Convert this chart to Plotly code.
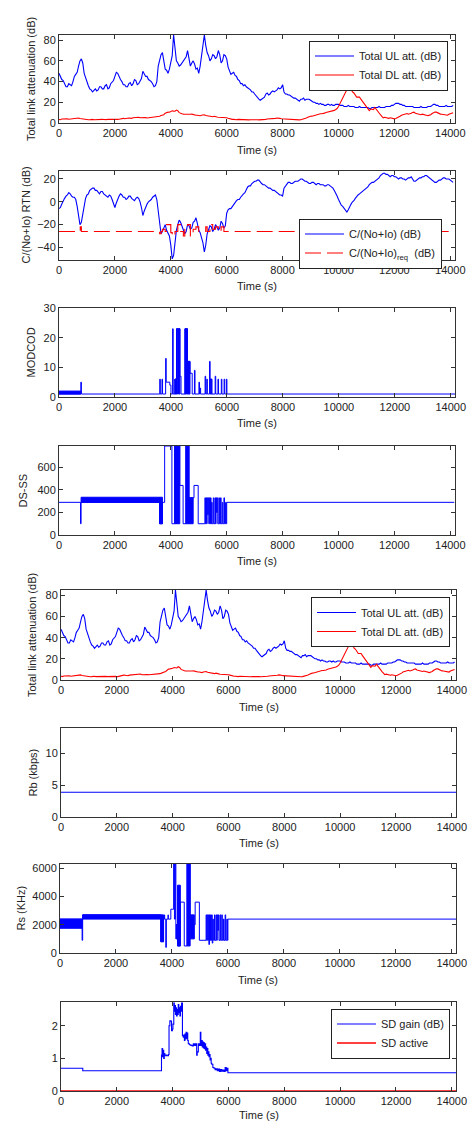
import plotly.graph_objects as go

W, H = 468, 1121
BLUE = "#0000ff"
RED = "#ff0000"
FONT = "Liberation Sans, Arial, sans-serif"
TXT = "#222222"

# ---------------- data ----------------
# values every 100 s (t = 0 ... 14100) and the in-between samples (t = 50 ... 14050)
ul_att = [48, 42, 38, 35, 37, 40, 47, 55, 62, 48, 38, 33, 30, 33, 32, 35, 33, 37, 34, 40,
          45, 48, 42, 37, 35, 38, 36, 42, 37, 40, 50, 45, 42, 40, 35, 40, 62, 68, 52, 48,
          58, 85, 60, 55, 58, 62, 70, 55, 60, 52, 48, 65, 85, 68, 60, 66, 62, 70, 58, 66,
          62, 50, 48, 46, 42, 38, 36, 35, 33, 30, 28, 24, 22, 24, 28, 27, 30, 30, 32, 33,
          37, 28, 27, 26, 24, 23, 21, 23, 22, 23, 22, 20, 19, 18, 18, 17, 18, 17, 17, 18,
          18, 17, 16, 16, 16, 16, 15, 15, 15, 15, 15, 14, 15, 15, 15, 15, 15, 16, 16, 17,
          18, 19, 18, 17, 16, 16, 16, 15, 15, 15, 15, 15, 16, 16, 18, 17, 16, 16, 16, 16,
          16, 17]
ul_att_mid = [44, 41, 35, 38, 36, 45, 49, 60, 58, 44, 36, 32, 32, 31, 35, 33, 36, 33, 38, 41,
              49, 44, 40, 37, 35, 39, 38, 41, 38, 43, 48, 45, 41, 38, 36, 55, 66, 60, 51, 52,
              65, 68, 58, 56, 61, 64, 63, 58, 57, 53, 55, 72, 75, 65, 62, 65, 64, 66, 60, 65,
              54, 47, 49, 45, 41, 38, 37, 34, 32, 30, 26, 23, 23, 25, 29, 28, 31, 31, 34, 34,
              30, 28, 27, 25, 24, 22, 23, 24, 23, 23, 21, 20, 19, 19, 18, 17, 18, 18, 17, 18,
              17, 17, 16, 17, 16, 16, 15, 16, 15, 15, 15, 14, 15, 15, 16, 15, 15, 16, 16, 17,
              19, 19, 18, 17, 16, 16, 16, 15, 15, 16, 15, 15, 16, 17, 18, 17, 16, 16, 17, 16,
              16]

dl_att = [3.5, 3.8, 3.5, 4.0, 3.8, 4.0, 4.5, 4.8, 4.0, 3.5, 3.5, 3.2, 3.5, 3.3, 3.5, 3.2, 3.4, 3.3, 3.5, 3.2,
          3.0, 3.5, 4.2, 4.5, 4.0, 4.8, 4.5, 5.2, 5.5, 5.0, 5.5, 5.2, 5.0, 5.5, 5.8, 6.0, 6.5, 7.5, 9.5, 10.5,
          11.0, 11.5, 12.5, 10.0, 9.0, 8.5, 8.0, 8.5, 8.0, 7.5, 7.0, 7.5, 8.0, 7.0, 6.5, 6.0, 6.5, 5.5, 5.0, 5.5,
          5.0, 4.0, 3.5, 3.2, 3.5, 3.0, 3.3, 3.2, 3.0, 3.3, 3.0, 3.2, 3.0, 3.3, 3.5, 3.8, 4.0, 4.5, 4.8, 4.5,
          4.0, 3.8, 3.5, 3.2, 3.0, 3.2, 3.0, 3.5, 4.5, 5.5, 6.5, 7.0, 8.0, 8.5, 9.0, 9.5, 10.5, 11.0, 12.0, 13.0,
          16.0, 22.0, 27.0, 32.0, 36.0, 30.0, 27.0, 25.0, 23.0, 20.0, 16.0, 12.0, 13.0, 15.0, 11.0, 8.0, 5.0, 5.0, 4.5, 4.5,
          4.0, 5.0, 6.5, 8.0, 9.0, 8.5, 9.5, 10.5, 9.0, 8.0, 8.5, 7.5, 7.0, 8.0, 10.0, 10.5, 9.0, 8.5, 8.0, 7.5,
          9.0, 10.0]
dl_att_mid = [3.2, 4.0, 3.9, 3.6, 4.2, 4.4, 4.9, 4.3, 3.8, 3.6, 3.1, 3.6, 3.2, 3.6, 3.3, 3.5, 3.2, 3.6, 3.3, 3.4,
              3.4, 3.7, 4.6, 4.1, 4.6, 4.4, 5.0, 5.1, 5.6, 5.1, 5.6, 4.9, 5.4, 5.4, 6.1, 6.0, 7.3, 8.0, 10.3, 10.4,
              11.8, 11.4, 11.8, 9.8, 8.6, 8.7, 8.0, 8.6, 7.6, 7.5, 7.0, 7.9, 7.3, 7.0, 6.1, 6.5, 5.8, 5.5, 5.0, 5.4,
              4.6, 3.6, 3.5, 3.2, 3.4, 3.0, 3.3, 3.0, 3.2, 3.1, 3.2, 3.0, 3.2, 3.3, 3.8, 3.8, 4.4, 4.5, 4.9, 4.1,
              4.0, 3.6, 3.4, 3.0, 3.2, 3.0, 3.2, 4.2, 4.8, 6.2, 6.6, 7.8, 8.0, 9.0, 9.0, 10.2, 10.5, 11.8, 12.2, 14.0,
              18.5, 25.0, 29.0, 35.0, 33.0, 29.0, 25.0, 25.0, 21.0, 18.0, 13.0, 13.5, 13.0, 13.0, 9.0, 6.5, 5.5, 4.6, 5.0, 4.3,
              4.4, 5.5, 7.5, 8.2, 9.2, 8.8, 10.2, 9.5, 8.8, 8.0, 8.2, 7.0, 7.6, 9.2, 10.6, 9.8, 8.6, 8.4, 7.6, 8.5,
              9.3]

cn_rtn = [-6, -2, 3, 6, 7, 4, 2, -12, -18, -2, 6, 10, 12, 10, 8, 9, 7, 5, 6, 2,
          -5, 3, 7, 4, 2, 5, 3, 1, 4, 0, -12, -4, 0, 2, 5, 2, -22, -26, -20, -27,
          -38, -47, -25, -16, -22, -28, -20, -24, -18, -14, -25, -32, -44, -28, -21, -26, -20, -25, -17, -23,
          -10, -6, -4, -1, 2, 4, 7, 11, 14, 16, 18, 19, 17, 15, 14, 12, 11, 10, 8, 6,
          5, 14, 17, 16, 17, 18, 19, 20, 18, 17, 16, 17, 15, 16, 15, 14, 15, 14, 12, 8,
          2, -3, -6, -9, -4, 0, 3, 6, 8, 10, 12, 15, 17, 18, 20, 23, 25, 24, 23, 23,
          22, 21, 21, 20, 19, 21, 22, 18, 19, 21, 22, 23, 22, 20, 18, 17, 19, 20, 21, 20,
          19, 17]
cn_rtn_mid = [-5, 1, 5, 8, 5, 4, -4, -20, -10, 3, 7, 11, 12, 10, 7, 9, 6, 4, 5, -1,
              -1, 5, 6, 4, 3, 5, 2, 3, 3, -5, -8, -2, 1, 4, 6, -10, -28, -22, -25, -30,
              -50, -33, -20, -18, -24, -26, -21, -23, -17, -19, -27, -36, -38, -25, -22, -24, -22, -23, -19, -21,
              -7, -6, -2, 1, 2, 6, 8, 13, 14, 17, 18, 19, 16, 15, 13, 12, 10, 9, 7, 6,
              12, 15, 17, 16, 18, 18, 20, 19, 18, 16, 17, 16, 16, 15, 15, 14, 15, 13, 10, 5,
              -1, -4, -8, -7, -2, 1, 5, 7, 9, 11, 13, 16, 17, 19, 21, 24, 25, 24, 22, 23,
              22, 20, 21, 20, 20, 21, 20, 18, 20, 21, 22, 23, 21, 19, 17, 18, 19, 21, 20, 20,
              18]

cn_req_t = [0, 760, 800, 3600, 3650, 3700, 3800, 3850, 4000, 4050, 4150, 4250, 4350, 4450, 4500,
            4600, 4700, 4800, 4900, 5000, 5100, 5250, 5300, 5400, 5500, 5600, 5700, 5800, 5900, 6000, 14150]
cn_req_v = [-26, -22, -26, -28, -26, -24, -26, -20, -27, -30, -26, -20, -26, -30, -24,
            -20, -30, -24, -22, -26, -26, -22, -26, -20, -24, -22, -26, -22, -26, -26, -26]

modcod_t = [0, 780, 800, 3600, 3620, 3680, 3700, 3810, 3830, 3960, 4000, 4060, 4080, 4140, 4200,
            4320, 4360, 4500, 4590, 4680, 4760, 4840, 4860, 5000, 5020, 5040, 5060, 5220, 5240, 5280,
            5300, 5380, 5400, 5460, 5580, 5600, 5680, 5700, 5800, 5820, 5900, 5920, 5980, 6000, 14150]
modcod_v = [1, 5, 1, 6, 1, 6, 1, 13, 5, 4, 1, 23, 1, 6, 23,
            7, 1, 23, 12, 8, 1, 9, 1, 5, 1, 3, 1, 7, 1, 6,
            1, 12, 6, 1, 7, 1, 6, 1, 6, 1, 6, 1, 6, 1, 1]
modcod_band_t0 = [0, 4140, 4200, 4270, 4500, 4560, 4590, 5400]
modcod_band_t1 = [780, 4200, 4240, 4320, 4550, 4590, 4680, 5460]
modcod_band_lo = [1, 1, 1, 1, 1, 1, 1, 1]
modcod_band_hi = [2, 6, 23, 23, 23, 23, 12, 6]

dsss_t = [0, 770, 790, 3600, 3700, 3780, 4040, 4140, 4200, 4240, 4320, 4440, 4540, 4650, 4830,
          4980, 5220, 5240, 5260, 5280, 5300, 5320, 5340, 5360, 5380, 5400, 5420, 5440, 5460, 5480,
          5520, 5540, 5580, 5600, 5620, 5640, 5660, 5680, 5720, 5740, 5780, 5800, 5840, 5860, 5900,
          5920, 5960, 5980, 6000, 14150]
dsss_v = [290, 100, 290, 100, 290, 790, 100, 790, 100, 790, 440, 100, 790, 330, 440,
          100, 330, 100, 330, 100, 330, 180, 330, 100, 330, 100, 330, 100, 290, 100,
          330, 100, 330, 100, 330, 200, 330, 100, 330, 100, 330, 100, 290, 100, 330,
          100, 290, 100, 290, 290]
dsss_band_t0 = [790, 3600, 4140, 4240, 4540, 4650]
dsss_band_t1 = [3600, 3700, 4200, 4320, 4650, 4800]
dsss_band_lo = [290, 100, 100, 100, 100, 100]
dsss_band_hi = [335, 335, 790, 790, 790, 330]

rb_t = [0, 14150]
rb_v = [3.9, 3.9]

rs_t = [0, 790, 810, 3600, 3700, 3730, 3740, 3780, 3800, 3860, 3870, 3960, 4060, 4090, 4120,
        4140, 4200, 4300, 4440, 4540, 4650, 4830, 4980, 5220, 5240, 5260, 5280, 5300, 5320, 5340,
        5360, 5380, 5400, 5420, 5440, 5460, 5480, 5520, 5540, 5580, 5600, 5620, 5640, 5660, 5680,
        5720, 5740, 5780, 5800, 5840, 5860, 5900, 5920, 5960, 5980, 6000, 14150]
rs_v = [2400, 900, 2700, 800, 2400, 2700, 2400, 400, 2400, 2700, 2400, 3100, 6300, 2400, 6300,
        2000, 500, 3600, 500, 6300, 2000, 3600, 900, 2700, 900, 2700, 900, 2700, 600, 2700,
        900, 2700, 900, 2700, 700, 2400, 900, 2700, 900, 2700, 900, 2700, 1600, 2700, 900,
        2700, 900, 2700, 900, 2400, 900, 2700, 900, 2400, 900, 2400, 2400]
rs_band_t0 = [0, 810, 3600, 4140, 4200, 4540, 4650]
rs_band_t1 = [790, 3600, 3700, 4200, 4300, 4650, 4800]
rs_band_lo = [1750, 2400, 800, 1000, 500, 500, 1000]
rs_band_hi = [2400, 2700, 2700, 2000, 4800, 6300, 2700]

sd_t = [0, 660, 780, 3560, 3600, 3620, 3640, 3660, 3680, 3700, 3720, 3760, 3800, 3850, 3870,
        3900, 3940, 3960, 3990, 4010, 4040, 4060, 4080, 4100, 4120, 4140, 4160, 4180, 4200, 4220,
        4240, 4260, 4280, 4300, 4320, 4350, 4380, 4400, 4420, 4440, 4460, 4480, 4500, 4520, 4540,
        4560, 4600, 4650, 4700, 4740, 4780, 4820, 4860, 4880, 4920, 4960, 4990, 5010, 5040, 5060,
        5080, 5100, 5120, 5140, 5160, 5180, 5200, 5220, 5240, 5260, 5280, 5300, 5320, 5340, 5360,
        5380, 5400, 5440, 5480, 5520, 5560, 5600, 5640, 5680, 5720, 5760, 5800, 5840, 5880, 5920,
        5950, 5980, 6000, 14150]
sd_v = [0.70, 0.70, 0.62, 0.62, 1.10, 1.30, 1.05, 1.25, 1.00, 1.15, 1.08, 1.10, 1.08, 1.12, 2.00,
        2.15, 2.14, 1.85, 1.90, 2.05, 2.70, 2.45, 2.62, 2.35, 2.55, 2.30, 2.50, 2.35, 2.65, 2.40,
        2.55, 2.30, 2.60, 2.45, 2.70, 1.70, 1.65, 1.72, 1.55, 1.75, 1.60, 1.80, 1.62, 1.78, 1.55,
        1.45, 1.42, 1.40, 1.38, 1.45, 1.40, 1.45, 1.10, 1.20, 1.45, 1.40, 1.80, 1.40, 1.55, 1.35,
        1.50, 1.32, 1.48, 1.30, 1.45, 1.25, 1.35, 1.15, 1.30, 1.10, 1.20, 1.05, 1.12, 0.95, 1.00,
        0.85, 0.82, 0.72, 0.70, 0.65, 0.68, 0.62, 0.67, 0.60, 0.66, 0.61, 0.64, 0.60, 0.72, 0.62,
        0.70, 0.56, 0.56, 0.56]
sd_active_t = [0, 14150]
sd_active_v = [0, 0]

x_ticks = [0, 2000, 4000, 6000, 8000, 10000, 12000, 14000]
x_ticktext = ["0", "2000", "4000", "6000", "8000", "10000", "12000", "14000"]


def interleave(main, mid):
    out = []
    for i, v in enumerate(main):
        out.append(v)
        if i < len(mid):
            out.append(mid[i])
    return out


t_fine = list(range(0, 14101, 50))
ul_series = interleave(ul_att, ul_att_mid)
dl_series = interleave(dl_att, dl_att_mid)
cn_series = interleave(cn_rtn, cn_rtn_mid)

# ---------------- layout geometry (pixels) ----------------
X_MAX = 14150
panels = [  # x0, x1, top, bottom
    (59, 454.5, 35, 123),
    (59, 454.5, 171, 260),
    (59, 455, 308, 397),
    (59, 454.5, 446, 535),
    (61, 456, 590, 680),
    (61, 456, 728, 817),
    (60, 456, 864, 953),
    (61, 456, 1002, 1091),
]
y_ranges = [[0, 85], [-51, 27], [0, 30], [0, 790], [0, 85], [0, 14], [0, 6300], [0, 2.73]]
y_ticks = [[0, 20, 40, 60, 80], [-40, -20, 0, 20], [0, 10, 20, 30], [0, 200, 400, 600],
           [0, 20, 40, 60, 80], [0, 5, 10], [0, 2000, 4000, 6000], [0, 1, 2]]
y_titles = ["Total link attenuation (dB)", "C/(No+Io) RTN (dB)", "MODCOD", "DS-SS",
            "Total link attenuation (dB)", "Rb (kbps)", "Rs (KHz)", None]
y_title_x = [31, 25, 30, 23, 32, 32, 20, None]
time_title_dy = [27, 26, 26, 26, 27, 26, 27, 24]

fig = go.Figure()


def ax(i):
    s = "" if i == 1 else str(i)
    return "x" + s, "y" + s


def add_line(i, x, y, color, name=None, legend=None, shape="linear", dash="solid", width=1.1):
    xa, ya = ax(i)
    kw = dict(legend=legend) if legend else {}
    fig.add_trace(go.Scatter(
        x=x, y=y, mode="lines", line=dict(color=color, width=width, shape=shape, dash=dash),
        name=name, showlegend=name is not None, xaxis=xa, yaxis=ya,
        hoverinfo="skip", **kw))


def add_bands(i, t0s, t1s, los, his):
    xa, ya = ax(i)
    for a, b, lo, hi in zip(t0s, t1s, los, his):
        fig.add_trace(go.Scatter(
            x=[a, b, b, a, a], y=[lo, lo, hi, hi, lo], mode="lines", fill="toself",
            fillcolor=BLUE, line=dict(color=BLUE, width=1), showlegend=False,
            xaxis=xa, yaxis=ya, hoverinfo="skip"))


# panel 1 & 5: attenuation
for i, lg in ((1, "legend"), (5, "legend3")):
    add_line(i, t_fine, ul_series, BLUE, "Total UL att. (dB)", lg)
    add_line(i, t_fine, dl_series, RED, "Total DL att. (dB)", lg)

# panel 2: C/(No+Io)
add_line(2, t_fine, cn_series, BLUE, "C/(No+Io) (dB)", "legend2")
add_line(2, cn_req_t, cn_req_v, RED, "C/(No+Io)<sub>req</sub>  (dB)", "legend2",
         shape="hv", dash="16px,6px")

# panel 3: MODCOD
add_bands(3, modcod_band_t0, modcod_band_t1, modcod_band_lo, modcod_band_hi)
add_line(3, modcod_t, modcod_v, BLUE, shape="hv", width=1)

# panel 4: DS-SS
add_bands(4, dsss_band_t0, dsss_band_t1, dsss_band_lo, dsss_band_hi)
add_line(4, dsss_t, dsss_v, BLUE, shape="hv", width=1)

# panel 6: Rb
add_line(6, rb_t, rb_v, BLUE)

# panel 7: Rs
add_bands(7, rs_band_t0, rs_band_t1, rs_band_lo, rs_band_hi)
add_line(7, rs_t, rs_v, BLUE, shape="hv", width=1)

# panel 8: SD
add_line(8, sd_t, sd_v, BLUE, "SD gain (dB)", "legend4", shape="hv")
add_line(8, sd_active_t, sd_active_v, RED, "SD active", "legend4", width=1.5)

layout = dict(
    width=W, height=H, margin=dict(l=0, r=0, t=0, b=0, autoexpand=False),
    paper_bgcolor="white", plot_bgcolor="white",
    font=dict(family=FONT, size=11, color=TXT),
    showlegend=True, hovermode=False,
)

annotations = []
for k, (x0, x1, top, bot) in enumerate(panels):
    i = k + 1
    s = "" if i == 1 else str(i)
    common = dict(showline=True, linecolor="#333333", linewidth=1, mirror="ticks",
                  ticks="inside", ticklen=4, tickcolor="#333333", tickwidth=1,
                  showgrid=False, zeroline=False, automargin=False,
                  tickfont=dict(family=FONT, size=11, color=TXT))
    layout["xaxis" + s] = dict(domain=[x0 / W, x1 / W], anchor="y" + s, range=[0, X_MAX],
                               tickvals=x_ticks, ticktext=x_ticktext, **common)
    layout["yaxis" + s] = dict(domain=[1 - bot / H, 1 - top / H], anchor="x" + s,
                               range=y_ranges[k], tickvals=y_ticks[k], **common)
    annotations.append(dict(text="Time (s)", xref="paper", yref="paper",
                            x=((x0 + x1) / 2) / W, y=1 - (bot + time_title_dy[k]) / H,
                            xanchor="center", yanchor="middle", showarrow=False,
                            font=dict(family=FONT, size=11, color=TXT)))
    if y_titles[k]:
        annotations.append(dict(text=y_titles[k], xref="paper", yref="paper",
                                x=y_title_x[k] / W, y=1 - ((top + bot) / 2) / H,
                                xanchor="center", yanchor="middle", textangle=-90,
                                showarrow=False, font=dict(family=FONT, size=11, color=TXT)))
layout["annotations"] = annotations


def leg(xr, yt):
    return dict(x=xr / W, y=1 - yt / H, xanchor="right", yanchor="top", bgcolor="white",
                bordercolor="#222222", borderwidth=1, font=dict(family=FONT, size=11, color=TXT),
                tracegroupgap=0, itemwidth=39)


layout["legend"] = leg(448, 40.5)
layout["legend2"] = leg(442, 218.5)
layout["legend3"] = leg(450, 597)
layout["legend4"] = leg(450, 1008.5)

fig.update_layout(**layout)
fig.write_html("out.html", config={"displayModeBar": False, "staticPlot": True},
               post_script="document.body.style.margin='0';document.body.style.overflow='hidden';")
